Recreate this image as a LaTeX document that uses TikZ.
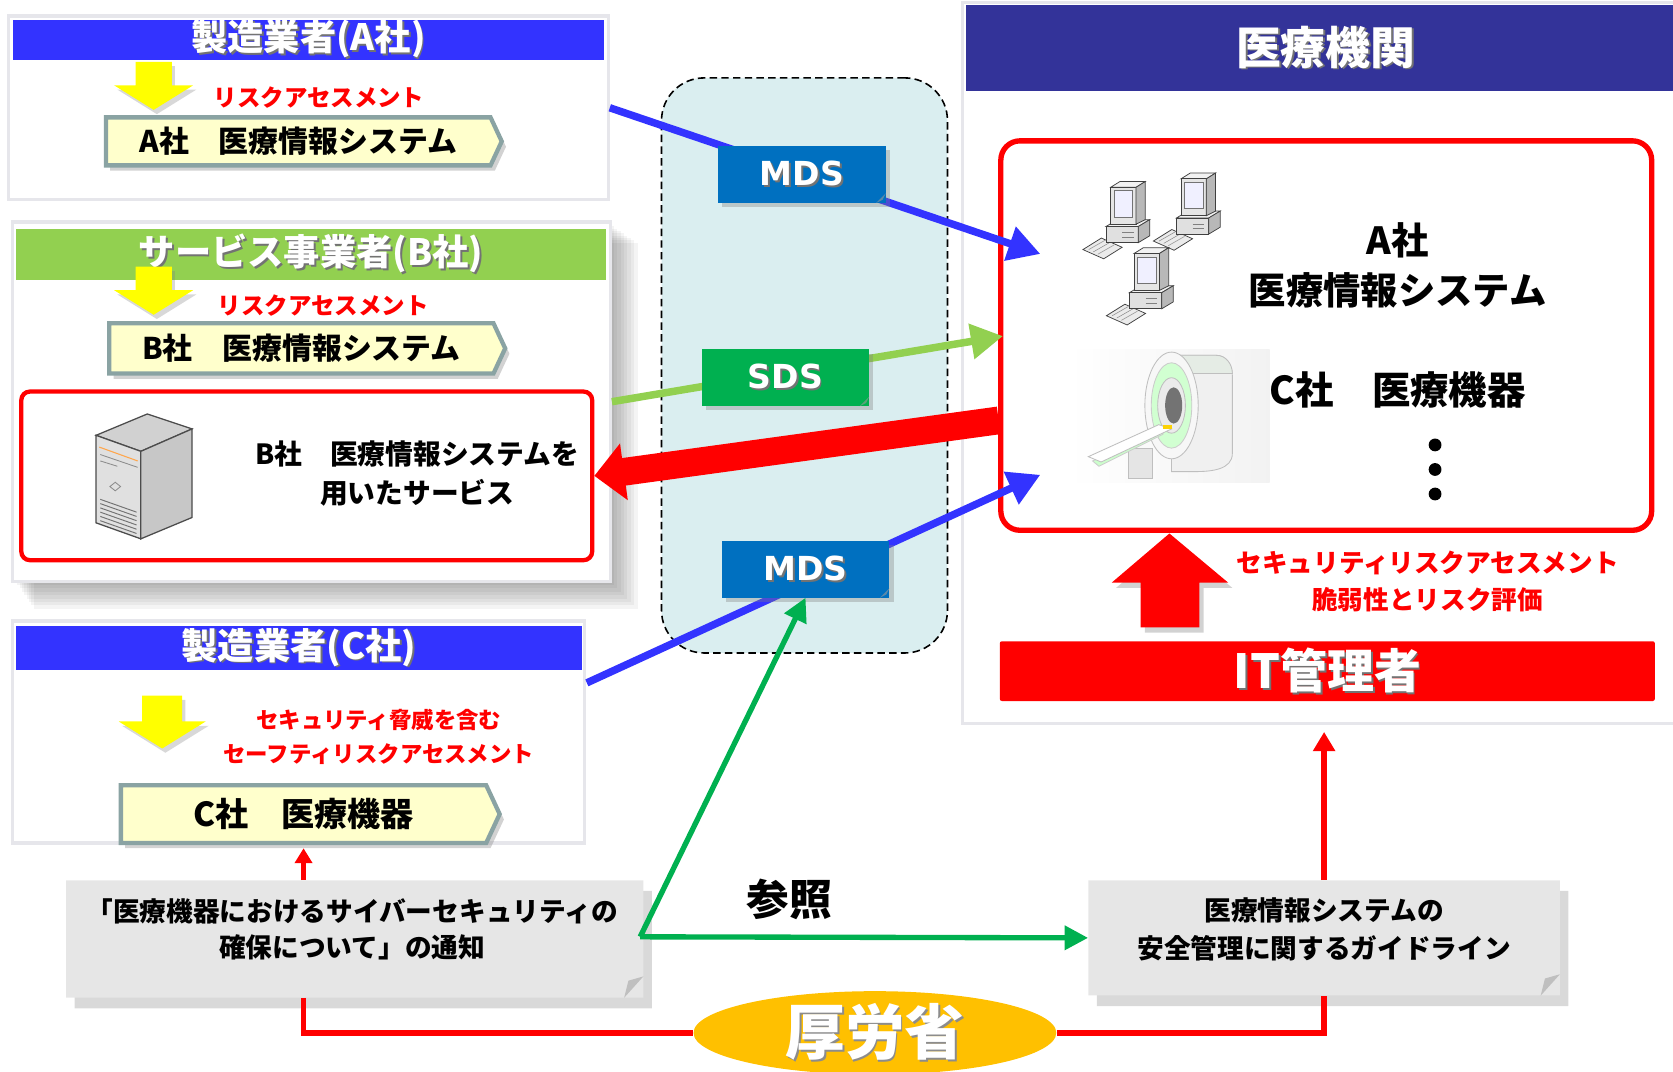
\documentclass[tikz,border=0pt]{standalone}
\usepackage{fontspec}
\setmainfont{Noto Sans CJK JP}
\newfontfamily\latinfont{DejaVu Sans}
\usetikzlibrary{shapes.symbols,shapes.geometric,shapes.misc,shadows,arrows.meta}

\definecolor{hdrblue}{HTML}{3333FF}
\definecolor{hdrgreen}{HTML}{92D050}
\definecolor{navy}{HTML}{333399}
\definecolor{mdsblue}{HTML}{0070C0}
\definecolor{sdsgreen}{HTML}{00B050}
\definecolor{linkblue}{HTML}{3333FF}
\definecolor{linkgreen}{HTML}{92D050}
\definecolor{sysyellow}{HTML}{FFFFCC}
\definecolor{sysgray}{HTML}{8AA3A3}
\definecolor{panelgray}{HTML}{E6E6EB}
\definecolor{midfill}{HTML}{DAEEF0}
\definecolor{notegray}{HTML}{E6E6E6}
\definecolor{gold}{HTML}{FFC000}
\definecolor{arrowyellow}{HTML}{FFFF00}

% white lettering with a soft dark offset copy behind it
\newcommand{\shtext}[2][black!55]{\leavevmode\rlap{\kern1.8pt\raisebox{-1.8pt}{\color{#1}#2}}#2}

\tikzset{
  panel/.style={draw=panelgray, line width=3pt, fill=white, inner sep=0pt},
  hdr/.style={fill=#1, text=white, inner sep=0pt, font=\bfseries\fontsize{34}{40}\selectfont},
  risk/.style={text=red, inner sep=0pt, align=center, font=\bfseries\fontsize{22}{28}\selectfont},
  sysbox/.style={shape=signal, signal to=east, signal pointer angle=130, fill=sysyellow,
    draw=sysgray, line width=4pt, inner sep=0pt,
    drop shadow={shadow xshift=4pt, shadow yshift=-5pt, opacity=.35},
    font=\bfseries\fontsize{28}{32}\selectfont},
  tagbox/.style={fill=#1, text=white, minimum width=157pt, minimum height=53pt, inner sep=0pt,
    drop shadow={shadow xshift=4pt, shadow yshift=-4pt, opacity=.35},
    font=\latinfont\bfseries\fontsize{31}{34}\selectfont},
  notebox/.style={chamfered rectangle, chamfered rectangle corners=south east,
    chamfered rectangle xsep=18pt, chamfered rectangle ysep=20pt, fill=notegray, inner sep=0pt,
    drop shadow={shadow xshift=8pt, shadow yshift=-10pt, opacity=.3}},
  link/.style={line width=7pt, -{Triangle[length=30pt,width=32pt]}},
  redline/.style={draw=red, line width=5pt},
  glink/.style={draw=sdsgreen, line width=5pt, -{Triangle[length=22pt,width=22pt]}},
  blacktext/.style={inner sep=0pt, align=center, font=\bfseries\fontsize{#1}{#1}\selectfont},
  ydown/.pic={
    \fill[arrowyellow, drop shadow={shadow xshift=3pt, shadow yshift=-4pt, opacity=.3}]
      (-17,0) -- (17,0) -- (17,22) -- (37,22) -- (0,45) -- (-37,22) -- (-17,22) -- cycle;
  },
  pc/.pic={
    \begin{scope}[draw=black!75, line width=0.7pt]
      % keyboard
      \filldraw[fill=black!8] (-38,24) -- (-22,14) -- (-4,22) -- (-20,32) -- cycle;
      \draw[black!45, line width=0.5pt] (-33,24) -- (-19,16) (-29,26) -- (-15,18) (-25,28) -- (-11,20);
      % base unit
      \filldraw[fill=black!5]  (-18,4) -- (-8,-2) -- (20,-2) -- (10,4) -- cycle;
      \filldraw[fill=black!12] (-18,4) rectangle (10,18);
      \filldraw[fill=black!28] (10,4) -- (20,-2) -- (20,12) -- (10,18) -- cycle;
      \draw[black!50, line width=0.5pt] (-4,9) -- (6,9) (-4,13) -- (6,13);
      % monitor
      \filldraw[fill=black!5]  (-14,-30) -- (-6,-35) -- (16,-35) -- (8,-30) -- cycle;
      \filldraw[fill=black!10] (-14,-30) rectangle (8,2);
      \filldraw[fill=black!28] (8,-30) -- (16,-35) -- (16,-2) -- (8,2) -- cycle;
      \filldraw[fill=blue!6, draw=black!55] (-11,-27) rectangle (5,-4);
    \end{scope}
  }
}

\begin{document}
\begin{tikzpicture}[x=1pt,y=-1pt]
\useasboundingbox (0,0) rectangle (1568,1004);

% ---------- manufacturer A ----------
\node[panel, minimum width=562pt, minimum height=172pt] (boxA) at (289,101) {};
\node[hdr=hdrblue, minimum width=554pt, minimum height=35pt] (hdrA) at (289,37.5) {\shtext{製造業者(A社)}};
\pic at (144,58) {ydown};
\node[risk] (riskA) at (299,91) {リスクアセスメント};
\node[sysbox, minimum width=371pt, minimum height=45pt] (sysA) at (279.5,132.5) {A社　医療情報システム};

% ---------- service provider B ----------
\foreach \k in {1,...,8}
  \fill[black, opacity=0.045] (14+\k*2.2,210+\k*2.2) rectangle (572+\k*3.2,545+\k*3.2);
\node[panel, minimum width=560pt, minimum height=337pt] (boxB) at (292,376.5) {};
\node[hdr=hdrgreen, minimum width=553pt, minimum height=47pt] (hdrB) at (291.5,238.5) {\shtext{サービス事業者(B社)}};
\pic at (144,250) {ydown};
\node[risk] (riskB) at (303,286) {リスクアセスメント};
\node[sysbox, minimum width=371pt, minimum height=47pt] (sysB) at (282.5,326.5) {B社　医療情報システム};
\node[draw=red, line width=4pt, rounded corners=8pt, minimum width=535pt, minimum height=158pt, inner sep=0pt] (svc) at (287.5,446) {};
% server tower
\begin{scope}[draw=black!70, line width=1.2pt]
  \filldraw[fill=black!18] (90,408) -- (138,388) -- (180,402) -- (132,423) -- cycle;
  \filldraw[fill=black!12] (90,408) -- (132,423) -- (132,505) -- (90,490) -- cycle;
  \filldraw[fill=black!22] (132,423) -- (180,402) -- (180,485) -- (132,505) -- cycle;
\end{scope}
\draw[orange!70, line width=1pt] (93,419) -- (129,432);
\draw[black!45, line width=0.8pt] (94,426) -- (129,438) (94,432) -- (110,437) (108,452) -- (113,456) -- (108,460) -- (103,456) -- cycle;
\foreach \v in {0,...,5}
  \draw[black!55, line width=0.9pt] (94,468+\v*4) -- (128,480+\v*4);
\node[blacktext=26, font=\bfseries\fontsize{26}{36}\selectfont] (svctext) at (391,444) {B社　医療情報システムを\\用いたサービス};

% ---------- manufacturer C ----------
\node[panel, minimum width=536pt, minimum height=208pt] (boxC) at (280,686) {};
\node[hdr=hdrblue, minimum width=530pt, minimum height=41pt] (hdrC) at (280,607.5) {\shtext{製造業者(C社)}};
\pic[scale=1.1] at (152,652) {ydown};
\node[risk, font=\bfseries\fontsize{21}{32}\selectfont] (riskC) at (355,691) {セキュリティ脅威を含む\\セーフティリスクアセスメント};
\node[sysbox, minimum width=355pt, minimum height=54pt, font=\bfseries\fontsize{31}{34}\selectfont] (sysC) at (284.5,763) {C社　医療機器};

% ---------- medical institution ----------
\node[panel, minimum width=673pt, minimum height=676pt] (inst) at (1238.5,340) {};
\node[hdr=navy, minimum width=663pt, minimum height=80pt, font=\bfseries\fontsize{42}{46}\selectfont] (hdrI) at (1236.5,45) {\hspace*{12pt}\shtext{医療機関}};
\node[draw=red, line width=5pt, rounded corners=18pt, minimum width=610pt, minimum height=365pt, inner sep=0pt] (rbox) at (1243,314.5) {};
\pic[scale=1.08] at (1056,208) {pc};
\pic[scale=1.08] at (1122,200) {pc};
\pic[scale=1.08] at (1078,270) {pc};
\node[blacktext=35, font=\bfseries\fontsize{35}{47}\selectfont] (sysAtext) at (1310,249) {A社\\医療情報システム};
% MRI scanner
\shade[left color=white, right color=black!5] (1002,328) rectangle (1190,452);
\begin{scope}[line width=0.8pt]
  \filldraw[fill=black!6, draw=black!25] (1098,333) -- (1140,333) to[out=0,in=90] (1155,352) -- (1155,425) to[out=-90,in=0] (1120,442) -- (1098,442) -- cycle;
  \filldraw[fill=green!25!black!10, draw=black!25] (1092,333) -- (1140,333) to[out=0,in=90] (1155,350) -- (1112,350) -- cycle;
  \filldraw[fill=black!3, draw=black!25] (1098,380) ellipse (25pt and 50pt);
  \filldraw[fill=green!18, draw=black!20] (1098,380) ellipse (19pt and 40pt);
  \filldraw[fill=black!8, draw=black!25] (1098,380) ellipse (13pt and 26pt);
  \fill[black!55] (1100,380) ellipse (8pt and 17pt);
  \filldraw[fill=black!10, draw=black!25] (1058,420) rectangle (1080,448);
  \filldraw[fill=green!20, draw=black!20] (1024,432) -- (1090,402) -- (1090,407) -- (1030,437) -- cycle;
  \filldraw[fill=white, draw=black!25] (1020,428) -- (1086,398) -- (1098,402) -- (1032,433) -- cycle;
  \fill[yellow!70!orange] (1090,398) rectangle (1098,402);
\end{scope}
\node[blacktext=36] (sysCtext) at (1310,365) {C社　医療機器};
\foreach \d [count=\i] in {417,440,463}
  \fill[black] (1345,\d) circle (6pt) coordinate (dot\i);
% IT administrator
\fill[red, drop shadow={shadow xshift=4pt, shadow yshift=-5pt, opacity=.35}]
  (1096,500) -- (1151,546) -- (1124,546) -- (1124,588) -- (1069,588) -- (1069,546) -- (1042,546) -- cycle;
\node[risk, font=\bfseries\fontsize{24}{35}\selectfont] (riskI) at (1338,545) {セキュリティリスクアセスメント\\脆弱性とリスク評価};
\node[fill=red, rounded corners=2pt, minimum width=614pt, minimum height=56pt, inner sep=0pt, text=white, font=\bfseries\fontsize{44}{48}\selectfont] (itadm) at (1244,629) {\shtext{IT管理者}};

% ---------- document exchange zone ----------
\node[draw=black, dash pattern=on 7pt off 4pt, line width=1.5pt, fill=midfill, rounded corners=40pt, minimum width=268pt, minimum height=539pt, inner sep=0pt] (zone) at (754,342.5) {};

\coordinate (tipA) at (975,238);
\coordinate (tipS) at (940,315);
\coordinate (tipC) at (975,445);
\coordinate (outC) at (550,640);
\coordinate (redsrc) at (936,394);
\draw[link, linkblue] (boxA.east) -- (tipA);
\draw[link, linkgreen] (boxB.east) -- (tipS);
\draw[link, linkblue] (outC) -- (tipC);
\draw[red, line width=26pt, -{Triangle[length=28pt,width=52pt]}] (redsrc) -- (svc.east);

\node[tagbox=mdsblue] (mds1) at (751.5,163.5) {\shtext{MDS}};
\node[tagbox=sdsgreen] (sds) at (736,354) {\shtext{SDS}};
\node[tagbox=mdsblue] (mds2) at (755,533.5) {\shtext{MDS}};
\foreach \t in {mds1,sds,mds2}
  \fill[black!40, opacity=.6] ([xshift=-9pt]\t.south east) -- ([yshift=9pt]\t.south east) -- ([xshift=-3pt,yshift=3pt]\t.south east) -- cycle;

% ---------- guidance documents ----------
\node[notebox, minimum width=541pt, minimum height=110pt] (notice) at (332.5,880) {};
\fill[black!25] ([yshift=20pt]notice.south east) -- ([xshift=-18pt]notice.south east) -- ([xshift=-14pt,yshift=16pt]notice.south east) -- cycle;
\node[blacktext=25, font=\bfseries\fontsize{25}{33}\selectfont] (noticetext) at (330,871) {「医療機器におけるサイバーセキュリティの\\確保について」の通知};

\node[notebox, minimum width=442pt, minimum height=108pt] (guide) at (1241,879) {};
\fill[black!25] ([yshift=20pt]guide.south east) -- ([xshift=-18pt]guide.south east) -- ([xshift=-14pt,yshift=16pt]guide.south east) -- cycle;
\node[blacktext=25, font=\bfseries\fontsize{25}{35}\selectfont] (guidetext) at (1241,871) {医療情報システムの\\安全管理に関するガイドライン};

\node[blacktext=40] (ref) at (740,843) {参照};

\coordinate (gj) at (600,878);
\draw[glink] (gj) -- (mds2.south);
\draw[glink] (gj) -- (guide.west);

\draw[red, line width=4pt, -{Triangle[length=14pt,width=16pt]}] (notice.north -| sysC.south) -- ([yshift=-3pt]sysC.south);

\node[ellipse, fill=gold, minimum width=340pt, minimum height=76pt, inner sep=0pt, text=white, font=\bfseries\fontsize{56}{60}\selectfont] (mhlw) at (820,968) {\shtext[black!45]{厚労省}};
\coordinate (instin) at (1241,686);
\draw[redline] (notice.south -| sysC.south) |- (mhlw.west);
\draw[redline] (mhlw.east) -| (guide.south);
\draw[redline, -{Triangle[length=18pt,width=20pt]}] (guide.north) -- (instin);
\end{tikzpicture}
\end{document}
